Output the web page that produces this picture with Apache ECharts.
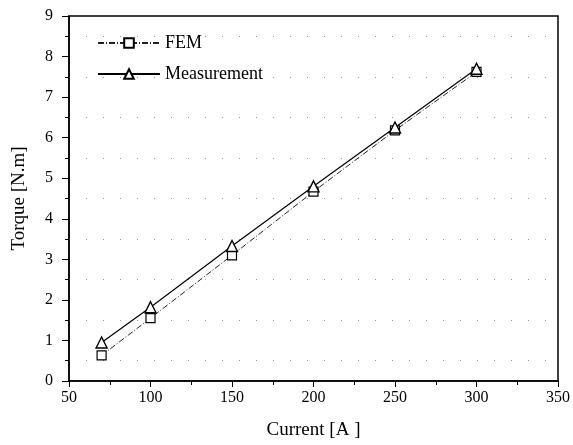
<!DOCTYPE html>
<html>
<head>
<meta charset="UTF-8">
<title>Torque vs Current</title>
<script src="https://cdn.jsdelivr.net/npm/echarts@6/dist/echarts.min.js"></script>
<style>
  body { margin: 0; background: #fff; }
  #main { width: 573px; height: 445px; }
</style>
</head>
<body>
<div id="main"></div>
<script>
// data
var current = [70, 100, 150, 200, 250, 300];
var femTorque = [0.63, 1.55, 3.10, 4.67, 6.18, 7.62];
var measTorque = [0.95, 1.82, 3.33, 4.80, 6.25, 7.70];

function pairs(xs, ys) {
    var out = [];
    for (var i = 0; i < xs.length; i++) out.push([xs[i], ys[i]]);
    return out;
}

var font = 'Liberation Serif';
var myChart = echarts.init(document.getElementById('main'));
var option = {
    animation: false,
    textStyle: { fontFamily: font, color: '#000' },
    grid: { left: 69, right: 13, top: 16, bottom: 64, show: true, borderColor: '#000', borderWidth: 1.5 },
    legend: {
        orient: 'vertical',
        left: 92,
        top: 29,
        itemWidth: 62,
        itemHeight: 12,
        itemGap: 13,
        textStyle: { fontFamily: font, fontSize: 18, color: '#000' },
        data: ['FEM', 'Measurement']
    },
    xAxis: {
        type: 'value',
        min: 50, max: 350, interval: 50,
        name: 'Current [A ]',
        nameLocation: 'middle',
        nameGap: 40,
        nameTextStyle: { fontFamily: font, fontSize: 19, color: '#000' },
        axisLine: { lineStyle: { color: '#000', width: 1.5 } },
        axisTick: { inside: false, length: 6, lineStyle: { color: '#000' } },
        minorTick: { show: true, splitNumber: 2, length: 4, lineStyle: { color: '#000' } },
        axisLabel: { fontFamily: font, fontSize: 16, color: '#000', margin: 9 },
        splitLine: { show: false }
    },
    yAxis: {
        type: 'value',
        min: 0, max: 9, interval: 1,
        name: 'Torque [N.m]',
        nameLocation: 'middle',
        nameGap: 40,
        nameTextStyle: { fontFamily: font, fontSize: 19, color: '#000' },
        axisLine: { show: true, lineStyle: { color: '#000', width: 1.5 } },
        axisTick: { show: true, inside: false, length: 7, lineStyle: { color: '#000' } },
        minorTick: { show: true, splitNumber: 2, length: 4, lineStyle: { color: '#000' } },
        axisLabel: { fontFamily: font, fontSize: 16, color: '#000', margin: 16 },
        splitLine: { show: false },
        minorSplitLine: { show: true, lineStyle: { color: '#999', type: [1, 16], width: 1 } }
    },
    series: [
        {
            name: 'FEM',
            type: 'line',
            data: pairs(current, femTorque),
            symbol: 'rect',
            symbolSize: 9,
            lineStyle: { color: '#222', width: 1, type: [6, 2, 1, 2] },
            itemStyle: { color: '#fff', borderColor: '#000', borderWidth: 1.2 }
        },
        {
            name: 'Measurement',
            type: 'line',
            data: pairs(current, measTorque),
            symbol: 'triangle',
            symbolSize: 11,
            lineStyle: { color: '#000', width: 1.2 },
            itemStyle: { color: '#fff', borderColor: '#000', borderWidth: 1.4 }
        }
    ]
};
myChart.setOption(option);
</script>
</body>
</html>
